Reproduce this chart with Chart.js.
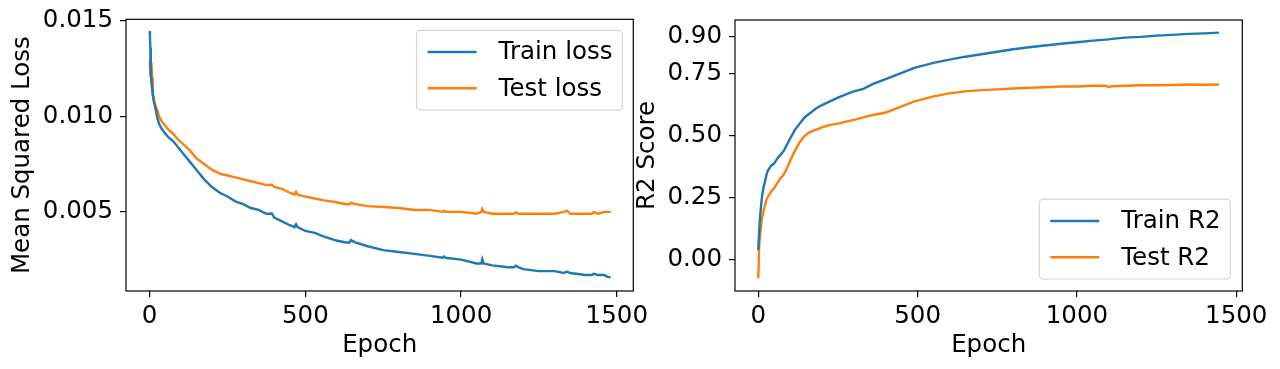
<!DOCTYPE html>
<html><head><meta charset="utf-8">
<script src="https://cdn.jsdelivr.net/npm/chart.js@4.4.0/dist/chart.umd.min.js"></script>
<style>
html,body{margin:0;padding:0;background:#fff;width:1280px;height:369px;overflow:hidden;}
#w1{position:absolute;left:0;top:0;width:700px;height:369px;}
#w2{position:absolute;left:600px;top:0;width:680px;height:369px;}
</style></head><body>
<div id="w1"><canvas id="c1" width="700" height="369"></canvas></div>
<div id="w2"><canvas id="c2" width="680" height="369"></canvas></div>
<script>
// ---- data ----
const lossEpochs = [0,1,2,3,4,5,6,8,10,13,16,20,25,30,40,50,60,75,90,110,130,150,175,200,225,250,275,300,325,350,375,388,392,400,425,450,465,470,475,500,530,560,600,630,642,646,660,700,750,800,850,900,940,945,950,1000,1050,1065,1068,1072,1100,1150,1170,1175,1185,1200,1250,1300,1330,1340,1350,1400,1420,1425,1440,1460,1470,1480];
const trainLoss = [0.01445,0.0142,0.0136,0.0129,0.0124,0.0120,0.0117,0.0114,0.0111,0.0108,0.0106,0.0103,0.0099,0.0096,0.0093,0.0091,0.0089,0.0087,0.0084,0.0080,0.0076,0.0072,0.0067,0.0063,0.0060,0.0058,0.00555,0.0054,0.0052,0.0051,0.0049,0.0049,0.00492,0.0047,0.0045,0.0043,0.0042,0.00435,0.0042,0.0040,0.0039,0.0037,0.0035,0.0034,0.0034,0.00352,0.0034,0.0032,0.0030,0.0029,0.0028,0.0027,0.0026,0.00266,0.0026,0.0025,0.0023,0.0023,0.00252,0.0023,0.0022,0.0021,0.0021,0.00218,0.0021,0.0020,0.0019,0.0019,0.0018,0.00188,0.0018,0.0017,0.0017,0.00176,0.0017,0.0017,0.0016,0.00158];
const testLoss = [0.0124,0.0130,0.0121,0.0132,0.0124,0.0128,0.0118,0.0120,0.0112,0.0110,0.0107,0.0105,0.0103,0.0100,0.0097,0.0095,0.0093,0.0091,0.0088,0.0085,0.0082,0.0078,0.0075,0.0072,0.0070,0.0069,0.0068,0.0067,0.0066,0.0065,0.0064,0.0064,0.00643,0.0063,0.0062,0.0060,0.0059,0.00605,0.0059,0.0058,0.0057,0.0056,0.0055,0.0054,0.0054,0.00548,0.0054,0.0053,0.00525,0.0052,0.0051,0.0051,0.0050,0.00506,0.0050,0.0050,0.0049,0.0050,0.00515,0.0050,0.0049,0.0049,0.0049,0.00498,0.0049,0.0049,0.0049,0.0049,0.0050,0.00506,0.0049,0.0049,0.0049,0.00498,0.0049,0.0050,0.0050,0.0050];

const r2Epochs = [0,3,6,9,12,16,20,25,30,40,50,60,70,80,90,100,115,130,145,160,180,200,225,250,275,300,330,360,400,430,460,490,520,550,600,650,700,750,800,850,900,950,1000,1050,1090,1100,1110,1150,1200,1250,1300,1350,1400,1446];
const trainR2 = [0.04,0.12,0.18,0.22,0.26,0.29,0.31,0.34,0.36,0.38,0.39,0.41,0.425,0.44,0.465,0.49,0.525,0.55,0.575,0.59,0.61,0.625,0.64,0.655,0.668,0.68,0.69,0.71,0.73,0.745,0.76,0.775,0.785,0.795,0.808,0.82,0.83,0.84,0.85,0.858,0.865,0.872,0.878,0.885,0.889,0.890,0.892,0.897,0.900,0.905,0.908,0.912,0.914,0.917];
const testR2 = [-0.074,0.06,0.10,0.14,0.17,0.195,0.215,0.24,0.255,0.275,0.29,0.31,0.33,0.345,0.37,0.40,0.44,0.475,0.50,0.515,0.525,0.535,0.545,0.55,0.558,0.565,0.575,0.585,0.595,0.61,0.625,0.64,0.65,0.66,0.672,0.68,0.685,0.688,0.692,0.695,0.697,0.70,0.70,0.703,0.703,0.697,0.701,0.703,0.705,0.705,0.706,0.708,0.707,0.708];

const epochTicks = [0, 500, 1000, 1500];
const lossTicks = [0.005, 0.010, 0.015];
const r2Ticks = [0.00, 0.25, 0.50, 0.75, 0.90];
const lossLabels = ['Train loss', 'Test loss'];
const r2Labels = ['Train R2', 'Test R2'];

// ---- styling ----
const BLUE = '#1f77b4', ORANGE = '#ff7f0e';
const FONT = 'DejaVu Sans';
const FS = 24.5;

const framePlugin = {
  id: 'frame',
  afterDatasetsDraw(chart) {
    const {ctx, chartArea: a} = chart;
    ctx.save();
    ctx.strokeStyle = '#000';
    ctx.lineWidth = 1.2;
    ctx.strokeRect(a.left, a.top, a.right - a.left, a.bottom - a.top);
    ctx.restore();
  }
};

const legendPlugin = {
  id: 'mplLegend',
  afterDraw(chart, args, opts) {
    const ctx = chart.ctx, a = chart.chartArea, f = FS;
    const ds = chart.data.datasets;
    ctx.save();
    ctx.font = f + 'px "' + FONT + '"';
    const tw = Math.max(...ds.map(d => ctx.measureText(d.label).width));
    const padL = 0.45 * f, padR = 0.4 * f, padV = 0.4 * f, hl = 2 * f, hp = 0.9 * f, rowH = opts.rowH, sp = opts.spacing;
    const w = padL + padR + hl + hp + tw;
    const h = padV * 2 + ds.length * rowH + (ds.length - 1) * sp;
    const bx = a.right - opts.inset - w;
    const by = opts.corner === 'tr' ? a.top + opts.inset : a.bottom - opts.inset - h;
    const r = 4;
    ctx.beginPath();
    ctx.moveTo(bx + r, by);
    ctx.arcTo(bx + w, by, bx + w, by + h, r);
    ctx.arcTo(bx + w, by + h, bx, by + h, r);
    ctx.arcTo(bx, by + h, bx, by, r);
    ctx.arcTo(bx, by, bx + w, by, r);
    ctx.closePath();
    ctx.fillStyle = 'rgba(255,255,255,0.8)';
    ctx.fill();
    ctx.strokeStyle = '#d6d6d6';
    ctx.lineWidth = 1.2;
    ctx.stroke();
    ds.forEach((d, i) => {
      const cy = by + padV + rowH * (i + 0.5) + sp * i;
      ctx.strokeStyle = d.borderColor;
      ctx.lineWidth = 2.5;
      ctx.beginPath();
      ctx.moveTo(bx + padL, cy);
      ctx.lineTo(bx + padL + hl, cy);
      ctx.stroke();
      ctx.fillStyle = '#000';
      ctx.textBaseline = 'middle';
      ctx.textAlign = 'left';
      ctx.fillText(d.label, bx + padL + hl + hp, cy + 1);
    });
    ctx.restore();
  }
};

function series(label, xs, ys, color) {
  return {
    label, borderColor: color, backgroundColor: color, borderWidth: 2.4,
    pointRadius: 0, tension: 0, fill: false,
    data: xs.map((x, i) => ({x, y: ys[i]}))
  };
}

function makeChart(id, cfg) {
  return new Chart(document.getElementById(id), {
    type: 'line',
    data: {datasets: cfg.datasets},
    options: {
      responsive: false, animation: false, devicePixelRatio: 1,
      layout: {padding: cfg.padding},
      plugins: {legend: {display: false}, tooltip: {enabled: false},
        mplLegend: cfg.legend},
      scales: {
        x: {
          type: 'linear', min: cfg.xmin, max: cfg.xmax,
          afterBuildTicks: s => { s.ticks = epochTicks.map(v => ({value: v})); },
          afterFit: s => { s.height = 78; s.paddingLeft = 0; s.paddingRight = 0; },
          border: {display: false},
          grid: {display: true, drawOnChartArea: false, drawTicks: true, tickLength: 6, color: '#000', lineWidth: 1.2},
          ticks: {font: {family: FONT, size: FS}, color: '#000', padding: 5, maxRotation: 0, callback: v => String(v)},
          title: {display: true, text: 'Epoch', font: {family: FONT, size: FS, lineHeight: 1.2}, color: '#000', padding: {top: 0, bottom: 9}}
        },
        y: {
          type: 'linear', min: cfg.ymin, max: cfg.ymax,
          afterBuildTicks: s => { s.ticks = cfg.yTicks.map(v => ({value: v})); },
          afterFit: s => { s.width = cfg.yWidth; s.paddingTop = 0; s.paddingBottom = 0; },
          border: {display: false},
          grid: {display: true, drawOnChartArea: false, drawTicks: true, tickLength: 6, color: '#000', lineWidth: 1.2},
          ticks: {font: {family: FONT, size: FS}, color: '#000', padding: 7, callback: v => v.toFixed(cfg.decimals)},
          title: {display: true, text: cfg.yTitle, font: {family: FONT, size: FS, lineHeight: 1.2}, color: '#000', padding: {top: cfg.yTitlePad, bottom: 0}}
        }
      }
    },
    plugins: [framePlugin, legendPlugin]
  });
}

makeChart('c1', {
  datasets: [series(lossLabels[0], lossEpochs, trainLoss, BLUE), series(lossLabels[1], lossEpochs, testLoss, ORANGE)],
  padding: {left: 0, top: 19.3, right: 700 - 633.3, bottom: 0},
  xmin: -76, xmax: 1553, ymin: 0.00086, ymax: 0.01507,
  yTicks: lossTicks, decimals: 3, yWidth: 126, yTitle: 'Mean Squared Loss', yTitlePad: 7.5,
  legend: {corner: 'tr', inset: 11, rowH: 24, spacing: 12.25}
});

makeChart('c2', {
  datasets: [series(r2Labels[0], r2Epochs, trainR2, BLUE), series(r2Labels[1], r2Epochs, testR2, ORANGE)],
  padding: {left: 24, top: 20, right: 680 - 642.3, bottom: 0},
  xmin: -73, xmax: 1519, ymin: -0.125, ymax: 0.968,
  yTicks: r2Ticks, decimals: 2, yWidth: 111, yTitle: 'R2 Score', yTitlePad: 9,
  legend: {corner: 'br', inset: 12, rowH: 24, spacing: 12.25}
});
</script>
</body></html>
